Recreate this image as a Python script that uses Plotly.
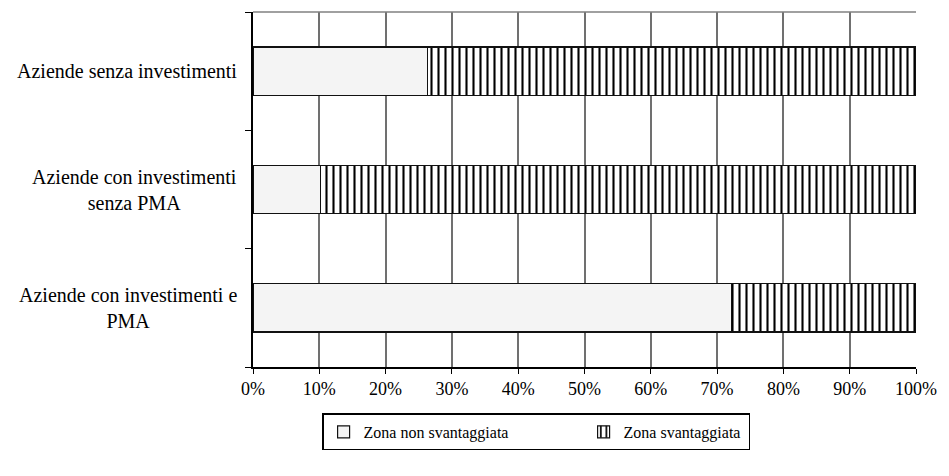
import plotly.graph_objects as go

# Share of farms by zone type (percent)
categorie = [
    "Aziende senza investimenti",
    "Aziende con investimenti<br>senza PMA",
    "Aziende con investimenti e<br>PMA",
]
zona_non_svantaggiata = [26.3, 10.2, 72.2]
zona_svantaggiata = [73.7, 89.8, 27.8]
tick_valori = [0, 10, 20, 30, 40, 50, 60, 70, 80, 90, 100]
tick_testi = [f"{v}%" for v in tick_valori]

FONT = "Liberation Serif"

fig = go.Figure()
fig.add_trace(go.Bar(
    y=categorie, x=zona_non_svantaggiata, orientation="h",
    name="Zona non svantaggiata", width=0.41, legendwidth=215,
    marker=dict(color="#f4f4f4", line=dict(color="#111111", width=1.2)),
))
fig.add_trace(go.Bar(
    y=categorie, x=zona_svantaggiata, orientation="h",
    name="Zona svantaggiata", width=0.41, legendwidth=120,
    marker=dict(
        color="white",
        line=dict(color="#111111", width=1.2),
        pattern=dict(shape="|", fgcolor="black", bgcolor="white",
                     size=7, solidity=0.3, fillmode="replace"),
    ),
))

# Category labels drawn as centred multi-line text left of the axis
for cat in categorie:
    fig.add_annotation(
        x=0, xref="paper", xanchor="right", xshift=-14,
        y=cat, yref="y", text=cat, showarrow=False, align="center",
        font=dict(family=FONT, size=20, color="black"),
    )

# Top border of the plot area
fig.add_shape(type="line", xref="paper", yref="paper", x0=0, x1=1, y0=1, y1=1,
              line=dict(color="#808080", width=1.5))

fig.update_layout(
    barmode="stack",
    width=949, height=476,
    margin=dict(l=253, r=28, t=12, b=109),
    plot_bgcolor="white", paper_bgcolor="white",
    font=dict(family=FONT, size=18, color="black"),
    xaxis=dict(
        range=[0, 100], tickvals=tick_valori, ticktext=tick_testi,
        showgrid=True, gridcolor="#707070", gridwidth=1.5,
        showline=True, linecolor="black", linewidth=1.5,
        ticks="outside", ticklen=5, tickcolor="black", tickwidth=1,
        zeroline=False, tickfont=dict(family=FONT, size=18),
    ),
    yaxis=dict(
        categoryorder="array", categoryarray=categorie[::-1],
        showticklabels=False, tickson="boundaries",
        ticks="outside", ticklen=6, tickcolor="black",
        showline=True, linecolor="black", linewidth=1.5,
        showgrid=False, zeroline=False,
    ),
    legend=dict(
        orientation="h", x=0.427, xanchor="center", y=-0.183, yanchor="middle",
        bordercolor="black", borderwidth=1.5, bgcolor="white",
        font=dict(family=FONT, size=16), itemwidth=30,
        traceorder="normal",
    ),
    bargap=0.59,
)

fig.write_html("out.html")
